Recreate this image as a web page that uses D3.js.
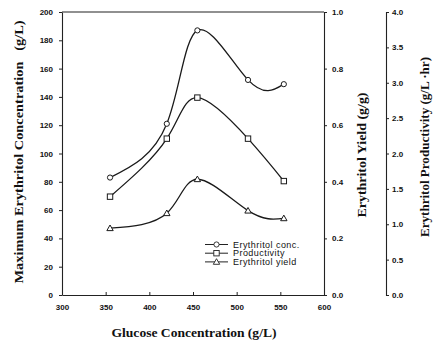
<!DOCTYPE html>
<html><head><meta charset="utf-8">
<script src="https://cdn.jsdelivr.net/npm/d3@7/dist/d3.min.js"></script>
<style>
body{margin:0;background:#fff;}
svg{display:block;}
text{fill:#111;}
.tick text{font-family:"Liberation Sans",Arial,sans-serif;font-size:8px;font-weight:bold;}
.ttl{font-family:"Liberation Serif","Times New Roman",serif;font-weight:bold;font-size:13.5px;white-space:pre;}
.leg{font-family:"Liberation Sans",Arial,sans-serif;font-size:9px;letter-spacing:0.45px;}
</style></head><body>
<svg id="c" width="440" height="343"></svg>
<script>
const glucose = [355, 420, 455, 513, 554];
const concentration = [83, 121, 187, 152, 149];
const productivity = [1.39, 2.21, 2.79, 2.21, 1.61];
const yieldVals = [0.236, 0.289, 0.409, 0.298, 0.271];
const xTicks = [300, 350, 400, 450, 500, 550, 600];
const concTicks = [0, 20, 40, 60, 80, 100, 120, 140, 160, 180, 200];
const yieldTicks = [0, 0.2, 0.4, 0.6, 0.8, 1.0];
const prodTicks = [0, 0.5, 1.0, 1.5, 2.0, 2.5, 3.0, 3.5, 4.0];
const legendLabels = ["Erythritol conc.", "Productivity", "Erythritol yield"];

const svg = d3.select("#c");
const L = 62, R = 324, T = 12, B = 295;
const x = d3.scaleLinear().domain([300, 600]).range([L, R]);
const yC = d3.scaleLinear().domain([0, 200]).range([B, T]);
const yY = d3.scaleLinear().domain([0, 1]).range([B, T]);
const yP = d3.scaleLinear().domain([0, 4]).range([B, T]);

function styleAxis(g){
  g.select(".domain").attr("stroke","#222").attr("stroke-width",1.1);
  g.selectAll(".tick line").attr("stroke","#222");
}
svg.append("g").attr("transform",`translate(0,${B})`)
  .call(d3.axisBottom(x).tickValues(xTicks).tickSize(-3).tickSizeOuter(0).tickPadding(9).tickFormat(d3.format("d")))
  .call(styleAxis);
svg.append("g").attr("transform",`translate(${L},0)`)
  .call(d3.axisLeft(yC).tickValues(concTicks).tickSize(3).tickSizeOuter(0).tickPadding(6).tickFormat(d3.format("d")))
  .call(styleAxis);
svg.append("g").attr("transform",`translate(${R},0)`)
  .call(d3.axisRight(yY).tickValues(yieldTicks).tickSize(3).tickSizeOuter(0).tickPadding(5).tickFormat(d3.format(".1f")))
  .call(styleAxis);
svg.append("g").attr("transform",`translate(386,0)`)
  .call(d3.axisRight(yP).tickValues(prodTicks).tickSize(3).tickSizeOuter(3).tickPadding(3).tickFormat(d3.format(".1f")))
  .call(styleAxis);
svg.append("line").attr("x1",L).attr("x2",R).attr("y1",T).attr("y2",T).attr("stroke","#222").attr("stroke-width",1.1);

const curve = d3.curveNatural;
const series = [
  {vals: concentration, y: yC, m: "circle"},
  {vals: productivity, y: yP, m: "square"},
  {vals: yieldVals, y: yY, m: "triangle"}
];
function marker(g, type, cx, cy){
  if(type==="circle") g.append("circle").attr("cx",cx).attr("cy",cy).attr("r",2.6);
  else if(type==="square") g.append("rect").attr("x",cx-2.7).attr("y",cy-2.7).attr("width",5.4).attr("height",5.4);
  else g.append("path").attr("d",`M${cx},${cy-3.2}L${cx+3.2},${cy+2.4}L${cx-3.2},${cy+2.4}Z`);
}
series.forEach(s=>{
  const pts = glucose.map((g,i)=>[x(g), s.y(s.vals[i])]);
  svg.append("path").attr("d", d3.line().curve(curve)(pts)).attr("fill","none").attr("stroke","#1a1a1a").attr("stroke-width",1.3);
  const mg = svg.append("g").attr("fill","#fff").attr("stroke","#1a1a1a").attr("stroke-width",1);
  pts.forEach(p=>marker(mg, s.m, p[0], p[1]));
});

const lg = svg.append("g");
legendLabels.forEach((lab,i)=>{
  const yy = 244.5 + i*8.7;
  lg.append("line").attr("x1",205).attr("x2",228).attr("y1",yy).attr("y2",yy).attr("stroke","#222").attr("stroke-width",1);
  const mg = lg.append("g").attr("fill","#fff").attr("stroke","#222").attr("stroke-width",0.9);
  marker(mg, series[i].m, 216.5, yy);
  lg.append("text").attr("class","leg").attr("x",233).attr("y",yy+3.2).text(lab);
});

svg.append("text").attr("class","ttl").attr("text-anchor","middle")
  .attr("textLength",263).attr("lengthAdjust","spacingAndGlyphs")
  .attr("transform","translate(23,152) rotate(-90)").text("Maximum Erythritol Concentration   (g/L)");
svg.append("text").attr("class","ttl").attr("text-anchor","middle")
  .attr("textLength",125).attr("lengthAdjust","spacingAndGlyphs")
  .attr("transform","translate(366,155) rotate(-90)").text("Erythritol Yield (g/g)");
svg.append("text").attr("class","ttl").attr("text-anchor","middle")
  .attr("textLength",180).attr("lengthAdjust","spacingAndGlyphs")
  .attr("transform","translate(429,147) rotate(-90)").text("Erythritol Productivity (g/L ·hr)");
svg.append("text").attr("class","ttl").attr("text-anchor","middle")
  .attr("textLength",165).attr("lengthAdjust","spacingAndGlyphs")
  .attr("x",194).attr("y",337).text("Glucose Concentration (g/L)");
</script>
</body></html>
